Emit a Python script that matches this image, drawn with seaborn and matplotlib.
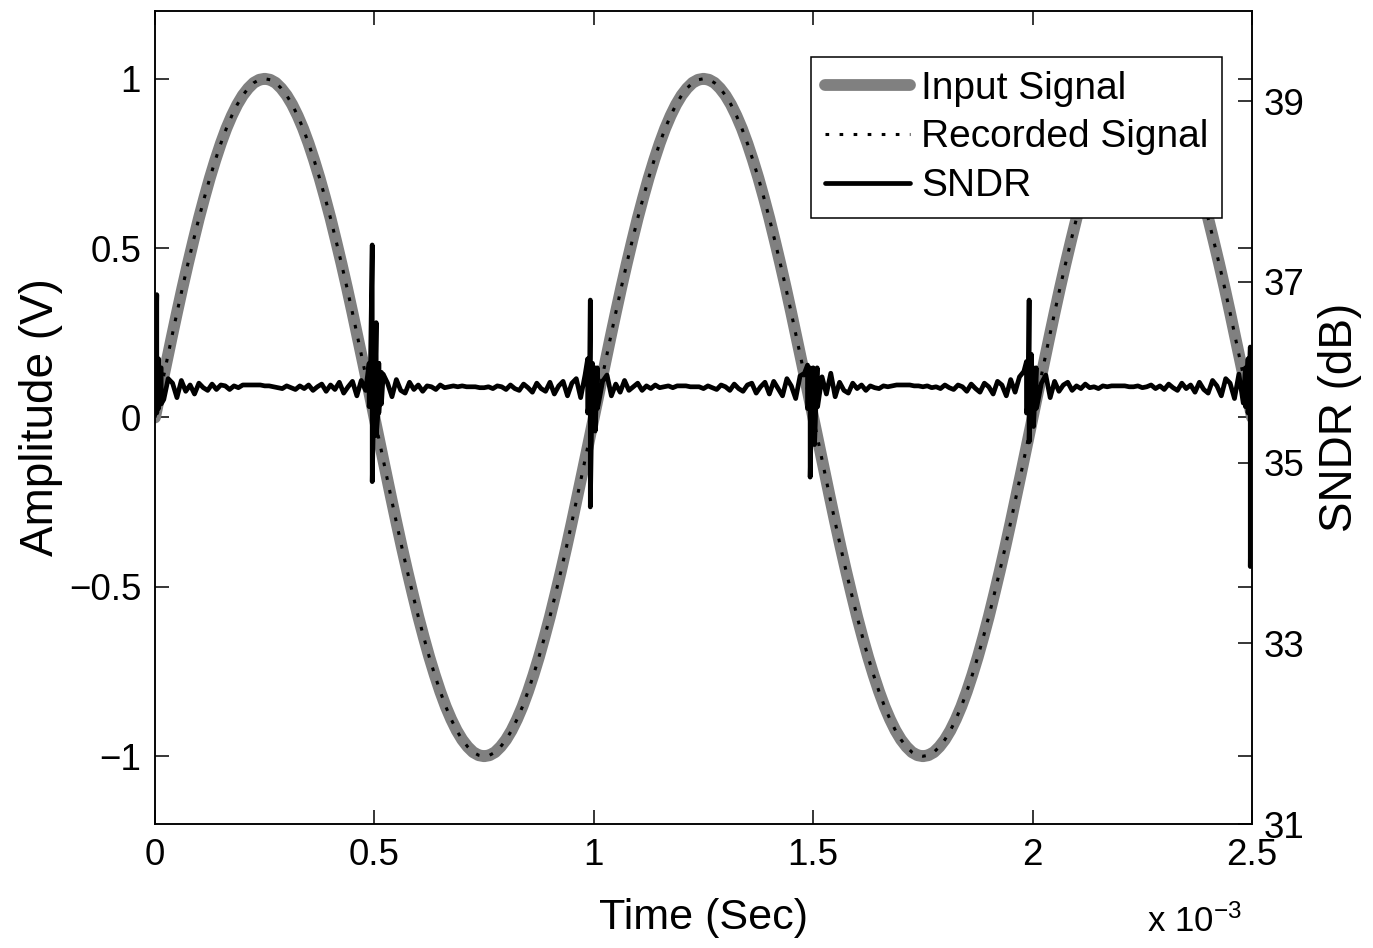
import numpy as np
import pandas as pd
import matplotlib
matplotlib.use("Agg")
import matplotlib.pyplot as plt
import seaborn as sns
from matplotlib.ticker import FuncFormatter, FixedLocator

# ==========================================
# 1. DATOS
# ==========================================
# Señal de entrada (V), muestreada cada 0.0125 ms entre 0 y 2.5 ms
input_signal = [
    0.000, 0.078, 0.156, 0.233, 0.309, 0.383, 0.454, 0.522, 0.588, 0.649,
    0.707, 0.760, 0.809, 0.853, 0.891, 0.924, 0.951, 0.972, 0.988, 0.997,
    1.000, 0.997, 0.988, 0.972, 0.951, 0.924, 0.891, 0.853, 0.809, 0.760,
    0.707, 0.649, 0.588, 0.522, 0.454, 0.383, 0.309, 0.233, 0.156, 0.078,
    0.000, -0.078, -0.156, -0.233, -0.309, -0.383, -0.454, -0.522, -0.588, -0.649,
    -0.707, -0.760, -0.809, -0.853, -0.891, -0.924, -0.951, -0.972, -0.988, -0.997,
    -1.000, -0.997, -0.988, -0.972, -0.951, -0.924, -0.891, -0.853, -0.809, -0.760,
    -0.707, -0.649, -0.588, -0.522, -0.454, -0.383, -0.309, -0.233, -0.156, -0.078,
    0.000, 0.078, 0.156, 0.233, 0.309, 0.383, 0.454, 0.522, 0.588, 0.649,
    0.707, 0.760, 0.809, 0.853, 0.891, 0.924, 0.951, 0.972, 0.988, 0.997,
    1.000, 0.997, 0.988, 0.972, 0.951, 0.924, 0.891, 0.853, 0.809, 0.760,
    0.707, 0.649, 0.588, 0.522, 0.454, 0.383, 0.309, 0.233, 0.156, 0.078,
    0.000, -0.078, -0.156, -0.233, -0.309, -0.383, -0.454, -0.522, -0.588, -0.649,
    -0.707, -0.760, -0.809, -0.853, -0.891, -0.924, -0.951, -0.972, -0.988, -0.997,
    -1.000, -0.997, -0.988, -0.972, -0.951, -0.924, -0.891, -0.853, -0.809, -0.760,
    -0.707, -0.649, -0.588, -0.522, -0.454, -0.383, -0.309, -0.233, -0.156, -0.078,
    0.000, 0.078, 0.156, 0.233, 0.309, 0.383, 0.454, 0.522, 0.588, 0.649,
    0.707, 0.760, 0.809, 0.853, 0.891, 0.924, 0.951, 0.972, 0.988, 0.997,
    1.000, 0.997, 0.988, 0.972, 0.951, 0.924, 0.891, 0.853, 0.809, 0.760,
    0.707, 0.649, 0.588, 0.522, 0.454, 0.383, 0.309, 0.233, 0.156, 0.078,
    0.000,
]
# La señal grabada no se distingue de la de entrada a esta escala
recorded_signal = list(input_signal)

# SNDR (dB), muestreado cada 0.01 ms entre 0 y 2.5 ms
sndr_base = [
    35.78, 36.02, 35.70, 35.93, 35.88, 35.72, 35.91, 35.79, 35.86, 35.76,
    35.88, 35.83, 35.80, 35.87, 35.81, 35.86, 35.85, 35.81, 35.85, 35.83,
    35.86, 35.86, 35.86, 35.86, 35.86, 35.85, 35.85, 35.84, 35.83, 35.82,
    35.85, 35.83, 35.81, 35.85, 35.82, 35.86, 35.80, 35.84, 35.87, 35.79,
    35.86, 35.81, 35.89, 35.77, 35.84, 35.90, 35.74, 35.91, 35.80, 35.70,
    36.06, 35.66, 35.98, 35.88, 35.73, 35.92, 35.80, 35.77, 35.89, 35.81,
    35.86, 35.79, 35.85, 35.84, 35.81, 35.86, 35.83, 35.84, 35.85, 35.84,
    35.85, 35.84, 35.84, 35.84, 35.83, 35.83, 35.84, 35.82, 35.85, 35.84,
    35.81, 35.86, 35.82, 35.80, 35.87, 35.83, 35.78, 35.88, 35.82, 35.79,
    35.89, 35.76, 35.85, 35.90, 35.74, 35.88, 35.93, 35.72, 35.97, 35.68,
    36.03, 35.64, 35.90, 35.97, 35.74, 35.87, 35.78, 35.91, 35.80, 35.84,
    35.88, 35.80, 35.85, 35.82, 35.86, 35.83, 35.84, 35.85, 35.83, 35.85,
    35.85, 35.85, 35.84, 35.84, 35.84, 35.82, 35.85, 35.83, 35.81, 35.86,
    35.84, 35.80, 35.87, 35.82, 35.79, 35.86, 35.88, 35.77, 35.84, 35.89,
    35.76, 35.90, 35.82, 35.74, 35.93, 35.85, 35.71, 35.96, 35.99, 35.64,
    36.05, 35.62, 35.95, 35.76, 35.99, 35.73, 35.89, 35.80, 35.77, 35.88,
    35.82, 35.86, 35.80, 35.85, 35.83, 35.82, 35.85, 35.84, 35.85, 35.86,
    35.86, 35.86, 35.86, 35.85, 35.85, 35.84, 35.85, 35.83, 35.84, 35.82,
    35.86, 35.83, 35.81, 35.86, 35.84, 35.79, 35.87, 35.82, 35.78, 35.88,
    35.84, 35.76, 35.90, 35.86, 35.74, 35.92, 35.78, 35.95, 36.01, 35.65,
    36.04, 35.63, 35.88, 35.97, 35.72, 35.90, 35.79, 35.86, 35.89, 35.80,
    35.85, 35.82, 35.87, 35.83, 35.84, 35.82, 35.85, 35.84, 35.85, 35.85,
    35.85, 35.85, 35.84, 35.84, 35.85, 35.83, 35.84, 35.86, 35.82, 35.85,
    35.81, 35.87, 35.83, 35.80, 35.88, 35.82, 35.86, 35.78, 35.89, 35.81,
    35.77, 35.91, 35.85, 35.74, 35.93, 35.88, 35.71, 35.98, 35.66, 36.06,
    35.90,
]

# Picos de SNDR alrededor de los cruces por cero (ms, dB maximo, dB minimo)
spike_time = [0.004, 0.008, 0.014,
              0.488, 0.495, 0.500, 0.504, 0.510, 0.516,
              0.986, 0.992, 0.997, 1.003, 1.008,
              1.487, 1.493, 1.498, 1.503, 1.509,
              1.986, 1.992, 1.997, 2.002, 2.008,
              2.485, 2.491, 2.496]
spike_high = [36.86, 36.15, 36.05,
              36.10, 37.41, 36.30, 36.55, 36.10, 36.00,
              36.15, 36.80, 36.10, 36.05, 36.05,
              36.08, 36.05, 36.02, 35.95, 36.05,
              36.12, 36.80, 36.20, 36.05, 36.05,
              36.05, 36.15, 36.28]
spike_low = [35.55, 35.60, 35.65,
             35.62, 34.79, 35.40, 35.30, 35.55, 35.65,
             35.55, 34.51, 35.50, 35.35, 35.60,
             35.60, 34.84, 35.35, 35.20, 35.62,
             35.55, 35.23, 35.45, 35.40, 35.60,
             35.62, 35.55, 33.85]

amp_ticks = [-1, -0.5, 0, 0.5, 1]
sndr_ticks = [31, 33, 35, 37, 39]
time_ticks = [0, 0.5, 1, 1.5, 2, 2.5]

# ==========================================
# 2. TABLAS PARA SEABORN
# ==========================================
t_signal = np.linspace(0, 2.5, len(input_signal))
df_sig = pd.DataFrame({"t": t_signal, "input": input_signal, "recorded": recorded_signal})

t_base = np.linspace(0, 2.5, len(sndr_base))
partes = [pd.DataFrame({"t": t_base, "db": sndr_base, "orden": 0}),
          pd.DataFrame({"t": spike_time, "db": spike_high, "orden": 1}),
          pd.DataFrame({"t": spike_time, "db": spike_low, "orden": 2})]
df_sndr = pd.concat(partes).sort_values(["t", "orden"]).reset_index(drop=True)

# ==========================================
# 3. GRAFICO
# ==========================================
sns.set_style("ticks")
plt.rcParams["font.family"] = ["Liberation Sans", "DejaVu Sans"]
plt.rcParams["mathtext.default"] = "regular"
plt.rcParams["text.color"] = "black"
plt.rcParams["axes.labelcolor"] = "black"

fig = plt.figure(figsize=(13.73, 9.48), dpi=100)
ax = fig.add_axes([0.1129, 0.1308, 0.7990, 0.8576])
ax2 = ax.twinx()

sns.lineplot(data=df_sig, x="t", y="input", ax=ax, color="#808080",
             linewidth=8.5, label="Input Signal", legend=False, zorder=2,
             solid_joinstyle="round")
sns.lineplot(data=df_sig, x="t", y="recorded", ax=ax, color="black",
             linewidth=2.2, linestyle=(0, (1.2, 3.4)), label="Recorded Signal",
             legend=False, zorder=3)
sns.lineplot(data=df_sndr, x="t", y="db", ax=ax2, color="black", sort=False,
             linewidth=3.4, label="SNDR", legend=False, estimator=None)

ax.set_xlim(0, 2.5)
ax.set_ylim(-1.2, 1.2)
ax2.set_ylim(31, 40)

fmt = FuncFormatter(lambda v, pos: f"{v:g}".replace("-", "\u2212"))
ax.xaxis.set_major_locator(FixedLocator(time_ticks))
ax.xaxis.set_major_formatter(fmt)
ax.yaxis.set_major_locator(FixedLocator(amp_ticks))
ax.yaxis.set_major_formatter(fmt)
ax2.yaxis.set_major_locator(FixedLocator(sndr_ticks))
ax2.yaxis.set_major_formatter(fmt)

ax.tick_params(axis="both", direction="in", length=10, width=1.1,
               labelsize=26.5, top=True, right=True, pad=10, colors="black")
ax2.tick_params(axis="y", direction="in", length=10, width=1.1,
                labelsize=26.5, pad=8, colors="black")

for a in (ax, ax2):
    for s in a.spines.values():
        s.set_visible(True)
        s.set_color("black")
        s.set_linewidth(1.1)

ax.set_xlabel("Time (Sec)", fontsize=31, labelpad=18)
ax.set_ylabel("Amplitude (V)", fontsize=33, labelpad=4)
ax2.set_ylabel("SNDR (dB)", fontsize=33, labelpad=10)

ax.text(0.904, -0.132, "x 10$^{-3}$", transform=ax.transAxes,
        fontsize=25, ha="left", va="baseline")

# Leyenda con las tres lineas
lineas = ax.get_lines() + ax2.get_lines()
etiquetas = [l.get_label() for l in lineas]
leg = ax2.legend(lineas, etiquetas, loc="upper right", bbox_to_anchor=(0.9727, 0.9434),
                 borderaxespad=0, fontsize=28, handlelength=2.2, handletextpad=0.28,
                 labelspacing=0.33, borderpad=0.35, fancybox=False, framealpha=1,
                 edgecolor="black")
leg.get_frame().set_linewidth(1.1)

fig.savefig("out.png", dpi=100)
